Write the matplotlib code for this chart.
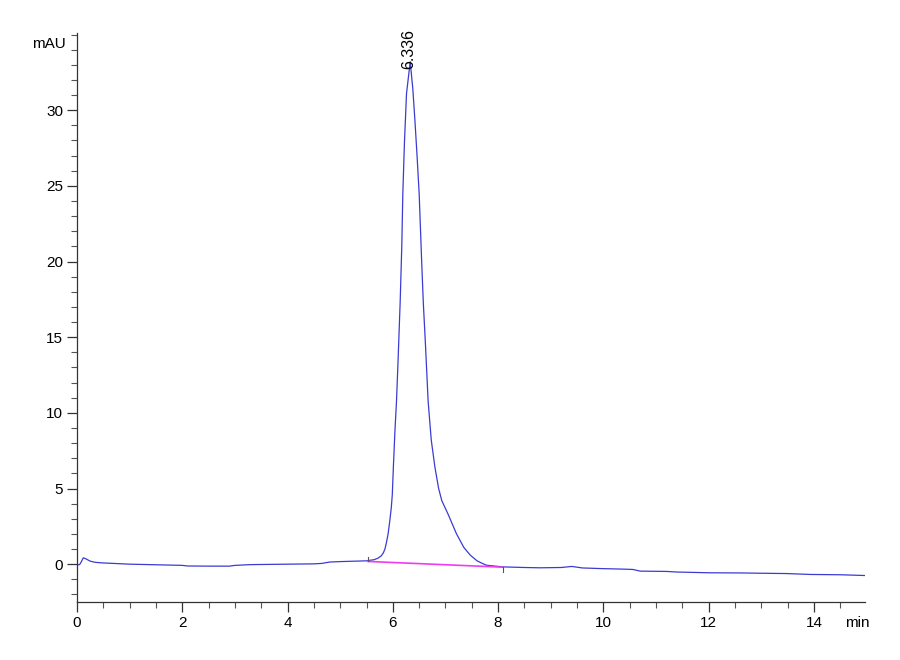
import matplotlib
matplotlib.use("Agg")
import matplotlib.pyplot as plt

# chromatogram trace (min, mAU)
time_min = [
    0.00, 0.05, 0.08, 0.12, 0.17, 0.25, 0.35, 0.50, 0.75, 1.00,
    1.50, 2.00, 2.10, 2.50, 2.90, 3.00, 3.30, 4.00, 4.50, 4.65,
    4.80, 5.00, 5.30, 5.50, 5.65, 5.72, 5.78, 5.82, 5.85, 5.88,
    5.91, 5.94, 5.97, 5.99, 6.01, 6.04, 6.07, 6.10, 6.14, 6.17,
    6.19, 6.22, 6.26, 6.33, 6.38, 6.42, 6.46, 6.50, 6.55, 6.58,
    6.62, 6.67, 6.73, 6.80, 6.87, 6.93, 7.05, 7.21, 7.35, 7.47,
    7.60, 7.70, 7.78, 8.09, 8.50, 8.80, 9.20, 9.40, 9.60, 9.94,
    10.40, 10.56, 10.70, 11.20, 11.40, 12.02, 12.60, 13.00, 13.48, 13.93,
    14.50, 14.97,
]
signal_mau = [
    -0.05, -0.03, 0.15, 0.42, 0.35, 0.20, 0.12, 0.08, 0.04, 0.00,
    -0.04, -0.08, -0.12, -0.13, -0.13, -0.08, -0.03, 0.00, 0.02, 0.05,
    0.14, 0.17, 0.20, 0.22, 0.30, 0.40, 0.55, 0.75, 1.00, 1.45,
    2.00, 2.80, 3.70, 4.60, 6.40, 8.80, 10.80, 13.50, 17.40, 21.00,
    24.50, 27.80, 31.10, 33.20, 31.40, 29.30, 27.00, 24.50, 19.80, 17.20,
    14.50, 10.80, 8.20, 6.40, 5.00, 4.20, 3.30, 2.00, 1.10, 0.60,
    0.22, 0.05, -0.07, -0.18, -0.22, -0.24, -0.22, -0.15, -0.25, -0.29,
    -0.33, -0.35, -0.46, -0.48, -0.52, -0.57, -0.58, -0.60, -0.62, -0.68,
    -0.70, -0.75,
]

# integration baseline and peak label
base_start = (5.53, 0.18)
base_end = (8.09, -0.20)
peak_rt = 6.336
peak_height = 33.2

plt.rcParams["font.family"] = ["Liberation Sans Narrow", "Liberation Sans", "DejaVu Sans"]

fig = plt.figure(figsize=(9, 6.6), dpi=100)
ax = fig.add_axes([77 / 900, 58 / 660, 788 / 900, 569 / 660])

ax.plot(time_min, signal_mau, color="#3b3bd4", linewidth=0.9)
ax.plot([base_start[0], base_end[0]], [base_start[1], base_end[1]],
        color="#f03cf0", linewidth=1.2)
# start / end markers of the integration
ax.plot([base_start[0], base_start[0]], [base_start[1], base_start[1] + 0.3],
        color="#555555", linewidth=0.8)
ax.plot([base_end[0], base_end[0]], [base_end[1], base_end[1] - 0.35],
        color="#555555", linewidth=0.8)

ax.annotate(f"{peak_rt:.3f}", xy=(peak_rt, peak_height), xytext=(-1, -5),
            textcoords="offset points", rotation=90, ha="center", va="bottom",
            fontsize=11.5)

ax.set_xlim(0, 14.97)
ax.set_ylim(-2.5, 35.1)
ax.set_xticks([0, 2, 4, 6, 8, 10, 12, 14])
ax.set_xticks([i * 0.5 for i in range(30)], minor=True)
ax.set_yticks([0, 5, 10, 15, 20, 25, 30])
ax.set_yticks(list(range(-2, 36)), minor=True)

for side in ["top", "right"]:
    ax.spines[side].set_visible(False)
for side in ["left", "bottom"]:
    ax.spines[side].set_color("#333333")
    ax.spines[side].set_linewidth(0.9)

ax.tick_params(which="major", length=7, width=0.9, color="#333333",
               labelsize=11, pad=3)
ax.tick_params(which="minor", length=4, width=0.8, color="#555555")

ax.text(-0.014, 34.4, "mAU", transform=ax.get_yaxis_transform(),
        ha="right", va="center", fontsize=11)
ax.annotate("min", xy=(14.82, 0), xycoords=("data", "axes fraction"),
            xytext=(0, -10), textcoords="offset points", ha="center", va="top",
            fontsize=11)

fig.savefig("out.png", dpi=100)
